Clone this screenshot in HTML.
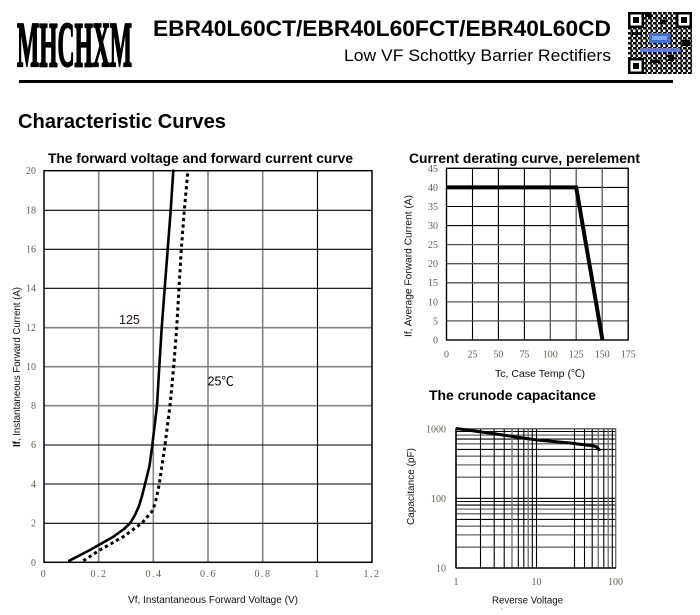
<!DOCTYPE html>
<html>
<head>
<meta charset="utf-8">
<style>
html,body{margin:0;padding:0;background:#fff;}
svg{display:block;}
.t{font-family:"Liberation Serif","Noto Serif CJK SC",serif;font-size:10px;fill:#625c4c;}
.s{font-family:"Liberation Sans","Noto Sans CJK SC",sans-serif;}
</style>
</head>
<body>
<svg width="700" height="615" viewBox="0 0 700 615" xmlns="http://www.w3.org/2000/svg">
<defs>
<pattern id="qr" x="628" y="12" width="5" height="5" patternUnits="userSpaceOnUse">
<rect x="0" y="0" width="2.5" height="2.5" fill="#000"/>
<rect x="2.5" y="2.5" width="2.5" height="2.5" fill="#000"/>
<rect x="2.5" y="0" width="1.2" height="2.5" fill="#000"/>
</pattern>
</defs>
<rect width="700" height="615" fill="#fff"/>

<!-- Header -->
<text x="17" y="66" font-family="Liberation Serif, serif" font-weight="bold" font-size="64" textLength="115" lengthAdjust="spacingAndGlyphs" fill="#000" stroke="#000" stroke-width="2.2" stroke-linejoin="round">MHCHXM</text>
<text x="153" y="36" class="s" font-weight="bold" font-size="22" textLength="458" lengthAdjust="spacingAndGlyphs" fill="#000">EBR40L60CT/EBR40L60FCT/EBR40L60CD</text>
<text x="344" y="61" class="s" font-size="16.5" textLength="267" lengthAdjust="spacingAndGlyphs" fill="#000">Low VF Schottky Barrier Rectifiers</text>
<rect x="19" y="80" width="654" height="3" fill="#000"/>

<!-- QR code approximation -->
<rect x="628" y="12" width="64" height="62" fill="url(#qr)"/>
<rect x="645" y="12" width="6" height="5" fill="#000"/>
<rect x="660" y="20" width="6" height="4" fill="#000"/>
<rect x="632" y="32" width="10" height="3" fill="#000"/>
<rect x="682" y="40" width="8" height="6" fill="#000"/>
<rect x="650" y="60" width="10" height="3" fill="#000"/>
<rect x="668" y="55" width="6" height="6" fill="#000"/>
<g fill="#000">
<rect x="628" y="12" width="16" height="16"/><rect x="676" y="12" width="16" height="16"/><rect x="628" y="58" width="16" height="16"/>
</g>
<g fill="#fff">
<rect x="630.5" y="14.5" width="11" height="11"/><rect x="678.5" y="14.5" width="11" height="11"/><rect x="630.5" y="60.5" width="11" height="11"/>
</g>
<g fill="#000">
<rect x="633" y="17" width="6" height="6"/><rect x="681" y="17" width="6" height="6"/><rect x="633" y="63" width="6" height="6"/>
</g>
<rect x="649" y="33" width="21" height="10" fill="#3a6fd8"/>
<rect x="652" y="36" width="15" height="4" fill="#7fa6ee"/>
<rect x="640" y="48" width="40" height="4" fill="#5f78e0"/>

<text x="18" y="128" class="s" font-weight="bold" font-size="20" textLength="208" lengthAdjust="spacingAndGlyphs" fill="#000">Characteristic Curves</text>

<!-- ================= Left chart ================= -->
<text x="48" y="163" class="s" font-weight="bold" font-size="13.5" textLength="305" lengthAdjust="spacingAndGlyphs" fill="#000">The forward voltage and forward current curve</text>
<g>
<g stroke="#858585" stroke-width="1.6">
<line x1="98.7" y1="170.7" x2="98.7" y2="562.3"/>
<line x1="153.3" y1="170.7" x2="153.3" y2="562.3"/>
<line x1="208" y1="170.7" x2="208" y2="562.3"/>
<line x1="262.7" y1="170.7" x2="262.7" y2="562.3"/>
<line x1="44" y1="327.7" x2="372" y2="327.7"/>
<line x1="44" y1="366.7" x2="372" y2="366.7"/>
<line x1="44" y1="405.7" x2="372" y2="405.7"/>
</g>
<g stroke="#000" stroke-width="1.1">
<line x1="317.5" y1="170.7" x2="317.5" y2="562.3"/>
<line x1="44" y1="210.3" x2="372" y2="210.3"/>
<line x1="44" y1="249.3" x2="372" y2="249.3"/>
<line x1="44" y1="288.3" x2="372" y2="288.3"/>
<line x1="44" y1="445" x2="372" y2="445"/>
<line x1="44" y1="484" x2="372" y2="484"/>
<line x1="44" y1="523.3" x2="372" y2="523.3"/>
</g>
<rect x="44" y="170.7" width="328" height="391.6" fill="none" stroke="#000" stroke-width="1.5"/>
<polyline fill="none" stroke="#000" stroke-width="2.6" stroke-linejoin="round" stroke-linecap="round"
points="69.3,560.7 90,550 113.3,536.7 124,529 130,523.3 135,515 139,506 142,496 146.7,477.3 149.5,466 152.3,445 157,405.7 159.3,366.7 161.7,327.7 164.7,288.3 167.7,249.3 170.7,210.3 173.3,170.7"/>
<polyline fill="none" stroke="#000" stroke-width="3" stroke-dasharray="3.2 3.2"
points="83.3,560.7 100,550 123.3,536.7 141.7,523.3 151.7,511.7 155.3,503.3 159.3,484 165,445 170,405.7 173.7,366.7 176.7,327.7 179,288.3 181.3,249.3 184.3,210.3 187.7,173"/>
<text x="119" y="324" class="s" font-size="12.5" fill="#2a0a2a">125</text>
<text x="207.5" y="385.5" class="s" font-size="12.5" fill="#000">25℃</text>
<g class="t" text-anchor="end">
<text x="36" y="174">20</text>
<text x="36" y="213.5">18</text>
<text x="36" y="252.5">16</text>
<text x="36" y="291.5">14</text>
<text x="36" y="331">12</text>
<text x="36" y="370">10</text>
<text x="36" y="409">8</text>
<text x="36" y="448">6</text>
<text x="36" y="487.5">4</text>
<text x="36" y="526.5">2</text>
<text x="36" y="566">0</text>
</g>
<g class="t" text-anchor="middle" letter-spacing="1.5">
<text x="44" y="577">0</text>
<text x="99" y="577">0.2</text>
<text x="154" y="577">0.4</text>
<text x="208.5" y="577">0.6</text>
<text x="263" y="577">0.8</text>
<text x="317.5" y="577">1</text>
<text x="372" y="577">1.2</text>
</g>
<text x="128" y="603" class="s" font-size="10" textLength="170" lengthAdjust="spacingAndGlyphs" fill="#111">Vf, Instantaneous Forward Voltage (V)</text>
<text transform="translate(20,447) rotate(-90)" class="s" font-size="10" textLength="160" lengthAdjust="spacingAndGlyphs" fill="#111"><tspan font-weight="bold">If</tspan>, Instantaneous Forward Current (A)</text>
</g>

<!-- ================= Derating chart ================= -->
<text x="409" y="163" class="s" font-weight="bold" font-size="13.5" textLength="231" lengthAdjust="spacingAndGlyphs" fill="#000">Current derating curve, perelement</text>
<g>
<g stroke="#000" stroke-width="1.1">
<line x1="472.5" y1="168.3" x2="472.5" y2="340"/>
<line x1="498.4" y1="168.3" x2="498.4" y2="340"/>
<line x1="524.4" y1="168.3" x2="524.4" y2="340"/>
<line x1="446.5" y1="206.5" x2="628.2" y2="206.5"/>
<line x1="446.5" y1="225.6" x2="628.2" y2="225.6"/>
<line x1="446.5" y1="187.4" x2="628.2" y2="187.4"/>
</g>
<g stroke="#555" stroke-width="1.3">
<line x1="550.3" y1="168.3" x2="550.3" y2="340"/>
<line x1="576.2" y1="168.3" x2="576.2" y2="340"/>
<line x1="602.2" y1="168.3" x2="602.2" y2="340"/>
<line x1="446.5" y1="244.6" x2="628.2" y2="244.6"/>
<line x1="446.5" y1="263.7" x2="628.2" y2="263.7"/>
<line x1="446.5" y1="282.8" x2="628.2" y2="282.8"/>
<line x1="446.5" y1="301.9" x2="628.2" y2="301.9"/>
<line x1="446.5" y1="320.9" x2="628.2" y2="320.9"/>
</g>
<rect x="446.5" y="168.3" width="181.7" height="171.7" fill="none" stroke="#000" stroke-width="1.4"/>
<polyline fill="none" stroke="#000" stroke-width="4" stroke-linejoin="miter" points="446.5,187.4 576.2,187.4 602.5,340"/>
<g class="t" text-anchor="end">
<text x="438" y="172">45</text>
<text x="438" y="191">40</text>
<text x="438" y="210">35</text>
<text x="438" y="229">30</text>
<text x="438" y="248">25</text>
<text x="438" y="267">20</text>
<text x="438" y="286">15</text>
<text x="438" y="305.5">10</text>
<text x="438" y="324.5">5</text>
<text x="438" y="343.5">0</text>
</g>
<g class="t" text-anchor="middle">
<text x="446.5" y="357.5">0</text>
<text x="472.5" y="357.5">25</text>
<text x="498.4" y="357.5">50</text>
<text x="524.4" y="357.5">75</text>
<text x="550.3" y="357.5">100</text>
<text x="576.2" y="357.5">125</text>
<text x="602.2" y="357.5">150</text>
<text x="628.2" y="357.5">175</text>
</g>
<text x="495" y="377" class="s" font-size="10" textLength="90" lengthAdjust="spacingAndGlyphs" fill="#111">Tc, Case Temp (℃)</text>
<text transform="translate(411.5,337) rotate(-90)" class="s" font-size="10" textLength="142" lengthAdjust="spacingAndGlyphs" fill="#111">If, Average Forward Current (A)</text>
</g>

<!-- ================= Capacitance chart ================= -->
<text x="429" y="400" class="s" font-weight="bold" font-size="13.5" textLength="167" lengthAdjust="spacingAndGlyphs" fill="#000">The crunode capacitance</text>
<g>
<g stroke="#000" stroke-width="1.1">
<line x1="456" y1="431.5" x2="616" y2="431.5"/>
<line x1="456" y1="439.1" x2="616" y2="439.1"/>
<line x1="456" y1="449.4" x2="616" y2="449.4"/>
<line x1="456" y1="498.3" x2="616" y2="498.3"/>
<line x1="456" y1="501.5" x2="616" y2="501.5"/>
<line x1="456" y1="505.1" x2="616" y2="505.1"/>
<line x1="456" y1="519.4" x2="616" y2="519.4"/>
</g>
<g stroke="#6a6a6a" stroke-width="1.3">
<line x1="456" y1="435.1" x2="616" y2="435.1"/>
<line x1="456" y1="443.8" x2="616" y2="443.8"/>
<line x1="456" y1="456.2" x2="616" y2="456.2"/>
<line x1="456" y1="464.9" x2="616" y2="464.9"/>
<line x1="456" y1="477.2" x2="616" y2="477.2"/>
<line x1="456" y1="509.1" x2="616" y2="509.1"/>
<line x1="456" y1="513.8" x2="616" y2="513.8"/>
<line x1="456" y1="526.2" x2="616" y2="526.2"/>
<line x1="456" y1="534.9" x2="616" y2="534.9"/>
<line x1="456" y1="547.2" x2="616" y2="547.2"/>
</g>
<g stroke="#000" stroke-width="1.1">
<line x1="480.5" y1="428.3" x2="480.5" y2="568.3"/>
<line x1="494.2" y1="428.3" x2="494.2" y2="568.3"/>
<line x1="504.2" y1="428.3" x2="504.2" y2="568.3"/>
<line x1="518.3" y1="428.3" x2="518.3" y2="568.3"/>
<line x1="523.8" y1="428.3" x2="523.8" y2="568.3"/>
<line x1="532.3" y1="428.3" x2="532.3" y2="568.3"/>
<line x1="536.5" y1="428.3" x2="536.5" y2="568.3"/>
<line x1="574.5" y1="428.3" x2="574.5" y2="568.3"/>
<line x1="584.5" y1="428.3" x2="584.5" y2="568.3"/>
<line x1="592.2" y1="428.3" x2="592.2" y2="568.3"/>
<line x1="603.8" y1="428.3" x2="603.8" y2="568.3"/>
<line x1="612.3" y1="428.3" x2="612.3" y2="568.3"/>
</g>
<g stroke="#6a6a6a" stroke-width="1.3">
<line x1="512" y1="428.3" x2="512" y2="568.3"/>
<line x1="528.2" y1="428.3" x2="528.2" y2="568.3"/>
<line x1="598.3" y1="428.3" x2="598.3" y2="568.3"/>
<line x1="608.2" y1="428.3" x2="608.2" y2="568.3"/>
<line x1="615.7" y1="428.3" x2="615.7" y2="568.3"/>
</g>
<line x1="456" y1="428.8" x2="616" y2="428.8" stroke="#555" stroke-width="1.3"/>
<line x1="456" y1="568" x2="616" y2="568" stroke="#000" stroke-width="1.4"/>
<line x1="456" y1="428.3" x2="456" y2="568.3" stroke="#000" stroke-width="1.6"/>
<path d="M456,428.5 L496,434 L536.7,440 L570,443 L594,446 Q598,447 599.5,450.8" fill="none" stroke="#000" stroke-width="3" stroke-linejoin="round"/>
<g class="t" text-anchor="end">
<text x="446" y="432.5">1000</text>
<text x="446" y="502">100</text>
<text x="446" y="571.5">10</text>
</g>
<g class="t" text-anchor="middle">
<text x="456" y="585">1</text>
<text x="536.5" y="585">10</text>
<text x="615.5" y="585">100</text>
</g>
<text x="492" y="603.5" class="s" font-size="10" textLength="71" lengthAdjust="spacingAndGlyphs" fill="#111">Reverse Voltage</text>
<text transform="translate(414,525) rotate(-90)" class="s" font-size="10" textLength="77" lengthAdjust="spacingAndGlyphs" fill="#111">Capacitance (pF)</text>
<rect x="501" y="608.5" width="1.5" height="1" fill="#999"/>
</g>
</svg>
</body>
</html>
